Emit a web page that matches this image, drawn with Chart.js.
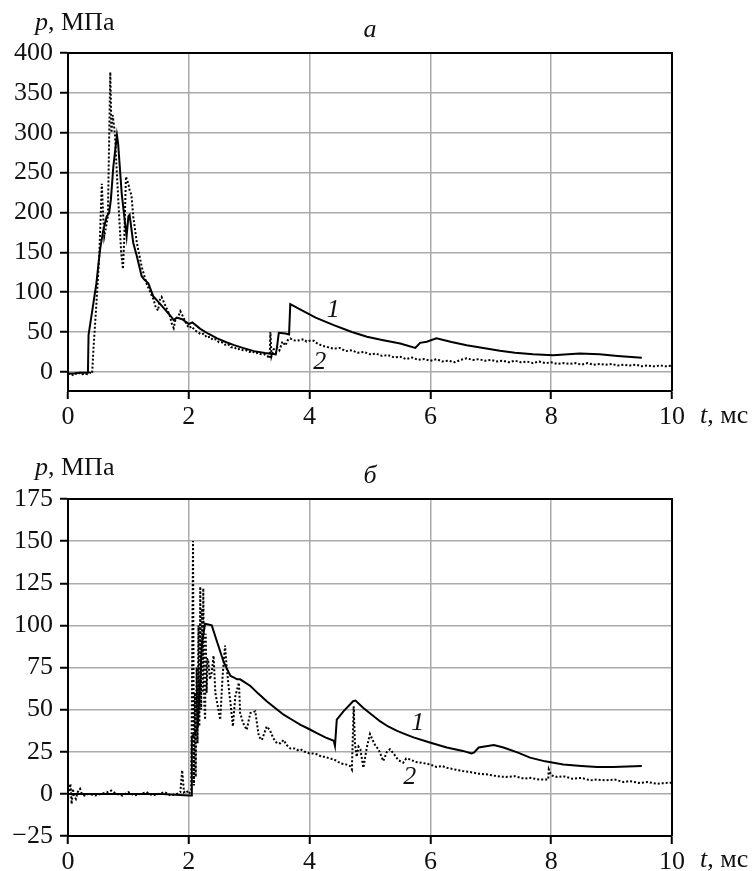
<!DOCTYPE html>
<html>
<head>
<meta charset="utf-8">
<script src="https://cdn.jsdelivr.net/npm/chart.js@4.4.1/dist/chart.umd.min.js"></script>
<style>
  body { margin: 0; background: #fff; }
  canvas { position: absolute; left: 0; }
</style>
</head>
<body>
<canvas id="chartA" width="755" height="430" style="top:0"></canvas>
<canvas id="chartB" width="755" height="441" style="top:430px"></canvas>
<script>
// ---- panel a ----
const timeTicks = [0, 2, 4, 6, 8, 10];
const presTicksA = [0, 50, 100, 150, 200, 250, 300, 350, 400];

// curve 1 (solid)
const tA1 = [0, 0.1, 0.2, 0.33, 0.34, 0.42, 0.47, 0.53, 0.58, 0.64, 0.68, 0.71, 0.75, 0.81, 0.83, 0.89, 0.97, 1.0, 1.02,
  1.08, 1.14, 1.22, 1.26, 1.33, 1.41, 1.55, 1.69, 1.75, 1.8, 1.89, 2.0, 2.06, 2.19, 2.33, 2.47, 2.61, 2.75, 2.92, 3.08,
  3.26, 3.44, 3.46, 3.49, 3.6, 3.66, 3.68, 3.85, 4.1, 4.4, 4.7, 4.95, 5.2, 5.5, 5.75, 5.83, 5.94, 6.1, 6.35, 6.6,
  6.9, 7.15, 7.4, 7.7, 8.03, 8.47, 8.8, 9.1, 9.5];
const pA1 = [-2, -2, -1, -1, 46, 86, 111, 153, 176, 195, 199, 216, 257, 297, 286, 223, 170, 195, 197,
  162, 145, 120, 116, 111, 95, 83, 71, 65, 68, 66, 60, 62, 54, 47.5, 42, 37.5, 33.5, 29.5, 26,
  23.8, 22, 31, 49, 48, 47, 85, 78, 68, 58.6, 50, 44, 40, 35.6, 30, 36.4, 37.7, 42, 37.5, 33.5,
  29.5, 26.4, 24, 22, 21, 23, 22, 20, 17.6];

// curve 2 (dotted)
const tA2 = [0, 0.04, 0.08, 0.12, 0.16, 0.2, 0.24, 0.28, 0.32, 0.36, 0.4, 0.42, 0.47, 0.52, 0.56, 0.58, 0.6, 0.63, 0.66,
  0.7, 0.72, 0.74, 0.76, 0.78, 0.8, 0.84, 0.88, 0.91, 0.93, 0.96, 0.98, 1.0, 1.02, 1.05, 1.08, 1.14, 1.22, 1.3, 1.36,
  1.41, 1.45, 1.49, 1.52, 1.55, 1.6, 1.63, 1.68, 1.72, 1.75, 1.78, 1.82, 1.86, 1.9, 1.95,
  2.0, 2.05, 2.1, 2.15, 2.2, 2.25, 2.3, 2.35, 2.4, 2.45, 2.5, 2.55, 2.6, 2.65, 2.7, 2.75, 2.8, 2.85, 2.9, 2.95,
  3.0, 3.05, 3.1, 3.15, 3.2, 3.25, 3.3, 3.34, 3.35, 3.37, 3.4, 3.46, 3.5, 3.55, 3.6, 3.64, 3.68, 3.72, 3.78, 3.85,
  3.9, 3.95, 4.0, 4.07, 4.12, 4.2, 4.3, 4.4, 4.5, 4.6, 4.7, 4.8, 4.9, 5.0, 5.1, 5.2, 5.3, 5.4, 5.5, 5.6, 5.7,
  5.8, 5.9, 6.0, 6.1, 6.2, 6.3, 6.4, 6.5, 6.6, 6.7, 6.8, 6.9, 7.0, 7.1, 7.2, 7.3, 7.4, 7.5, 7.6, 7.7, 7.8, 7.9,
  8.0, 8.1, 8.2, 8.3, 8.4, 8.5, 8.6, 8.7, 8.8, 8.9, 9.0, 9.1, 9.2, 9.3, 9.4, 9.5, 9.6, 9.7, 9.8, 9.9, 10.0];
const pA2 = [-3, -2, -4, -2, -3, -1, -3, -2, -3, -1, -2, 27, 85, 150, 236, 200, 170, 182, 195,
  376, 300, 322, 310, 295, 262, 205, 150, 129, 165, 245, 240, 236, 228, 222, 195, 162, 132, 111, 100,
  92, 82, 77, 90, 94, 85, 80, 72, 60, 55, 66, 68, 76, 70, 62,
  55, 57, 52, 50, 47, 48, 43, 44, 40, 41, 37, 37, 34, 35, 31, 31, 28, 29, 27, 27,
  25, 26, 23, 24, 22, 22, 20, 17, 50, 20, 28, 31, 27, 38, 33, 40, 42, 40, 39, 40,
  41, 38, 39, 39, 36, 33, 31, 29, 30, 26, 27, 24, 25, 22, 23, 20, 21, 18, 19, 16, 18,
  15, 16, 14, 16, 13, 14, 12, 15, 17, 15, 16, 14, 15, 13, 14, 12, 14, 12, 13, 11, 13, 11,
  12, 10, 11, 10, 11, 9, 11, 9, 10, 9, 10, 8, 9, 8, 9, 7, 8, 7, 8, 7, 8];

// ---- panel б ----
const presTicksB = [-25, 0, 25, 50, 75, 100, 125, 150, 175];

const tB1 = [0, 0.5, 1.0, 1.5, 2.0, 2.04, 2.05, 2.11, 2.15, 2.19, 2.22, 2.27, 2.38, 2.47, 2.58, 2.69, 2.75, 2.8, 2.85,
  3.02, 3.15, 3.29, 3.43, 3.57, 3.71, 3.85, 3.99, 4.12, 4.26, 4.4, 4.42, 4.45, 4.56, 4.72, 4.76, 4.89, 5.03, 5.17,
  5.3, 5.44, 5.58, 5.72, 5.99, 6.27, 6.54, 6.68, 6.72, 6.8, 7.05, 7.21, 7.45, 7.65, 7.9, 8.2, 8.5, 8.76, 9.03, 9.5];
const pB1 = [0, 0, 0, 0, -1, -1, 34, 36.5, 40, 68, 90, 101, 100, 90, 78, 70, 69, 68, 68,
  64, 59.5, 55, 51, 47, 44, 41, 38.5, 36, 33.5, 31.5, 28.5, 44, 49, 55, 55.4, 51, 47, 43,
  40, 37.5, 35.5, 33.5, 30.5, 27.5, 25.5, 24, 24.5, 27.5, 29, 27.5, 24.5, 21.5, 19.3, 17.5, 16.6, 16, 16, 16.5];

const tB2 = [0, 0.02, 0.04, 0.06, 0.08, 0.1, 0.13, 0.16, 0.2, 0.23, 0.27, 0.35, 0.45, 0.55, 0.65, 0.72, 0.8, 0.9,
  1.0, 1.1, 1.2, 1.3, 1.4, 1.5, 1.6, 1.7, 1.8, 1.86, 1.89, 1.92, 1.96, 2.0, 2.04,
  2.07, 2.085, 2.1, 2.115, 2.13, 2.145, 2.16, 2.175, 2.19, 2.205, 2.22, 2.23, 2.24, 2.255, 2.27, 2.28, 2.295, 2.31,
  2.32, 2.35, 2.38, 2.41, 2.44, 2.48, 2.52, 2.56, 2.6, 2.63,
  2.67, 2.69, 2.73, 2.77, 2.83, 2.85, 2.9, 2.96, 3.0, 3.02, 3.1, 3.16, 3.21, 3.29, 3.34, 3.4, 3.46, 3.52, 3.57,
  3.62, 3.68, 3.75, 3.8, 3.85, 3.92, 4.0, 4.06, 4.12, 4.2, 4.26, 4.33, 4.4, 4.47, 4.53, 4.6, 4.67, 4.7, 4.73,
  4.75, 4.78, 4.81, 4.84, 4.89, 4.95, 5.0, 5.03, 5.09, 5.14, 5.22, 5.28, 5.33, 5.4, 5.47, 5.55, 5.6, 5.66, 5.75,
  5.85, 5.99, 6.1, 6.2, 6.27, 6.4, 6.54, 6.65, 6.8, 6.95, 7.1, 7.25, 7.4, 7.55, 7.65, 7.8, 7.95, 7.96, 8.0, 8.1,
  8.2, 8.35, 8.5, 8.65, 8.76, 8.9, 9.05, 9.2, 9.3, 9.45, 9.6, 9.75, 9.9, 10.0];
const pB2 = [-3, 1, 6, -6, 3, -1, -3, 1, 3, 0, -1, 0, -1, 0, 1, 2, 0, -1,
  1, -1, 0, 1, -1, 0, 1, -1, 0, 1, 14, 1, 2, 0, 2,
  150, 5, 60, 10, 75, 30, 100, 40, 123, 50, 110, 60, 122, 55, 44, 95, 60, 80,
  80, 68, 72, 82, 60, 52, 44, 70, 88, 74,
  60, 54, 40, 58, 66, 48, 42, 38, 45, 48, 49, 34, 32, 40, 38, 33, 30, 30, 32,
  29, 27, 27, 26, 26.5, 25, 24, 24, 23.5, 22, 22, 21, 20.5, 19, 18, 17.5, 16.5, 14.5, 52,
  30, 22, 28, 26.5, 15.5, 28, 35.5, 33, 28.5, 26.5, 19.5, 25, 26.5, 23.5, 20, 18.5, 21, 20.5, 19,
  18.5, 17.5, 16, 16.5, 15.5, 14.5, 13.5, 13, 12, 11.5, 10.5, 10, 10.5, 9, 9.5, 8.5, 8.5, 14.5, 11, 10,
  10.5, 9, 9.5, 8, 8.5, 8, 8.5, 7, 7.6, 6.5, 7, 6, 6.5, 6.6];

const FONT = '"Liberation Serif", "DejaVu Serif", serif';

function pairs(xs, ys) {
  return xs.map((x, i) => ({ x: x, y: ys[i] }));
}

function drawMixed(ctx, parts, x, y) {
  ctx.textAlign = 'left';
  parts.forEach(([style, txt]) => {
    ctx.font = style + ' 26px ' + FONT;
    ctx.fillText(txt, x, y);
    x += ctx.measureText(txt).width;
  });
}

// frame + text labels
const decor = {
  id: 'decor',
  afterDraw(chart, args, o) {
    const { ctx, chartArea: a, scales } = chart;
    ctx.save();
    ctx.strokeStyle = '#000';
    ctx.lineWidth = 2;
    ctx.beginPath();
    ctx.moveTo(a.left, a.top);
    ctx.lineTo(a.right, a.top);
    ctx.lineTo(a.right, a.bottom);
    ctx.stroke();

    ctx.fillStyle = '#111';
    ctx.textBaseline = 'alphabetic';
    drawMixed(ctx, [['italic', 'p'], ['normal', ', МПа']], 35, o.yTitleY);
    drawMixed(ctx, [['italic', 't'], ['normal', ', мс']], 700, o.xTitleY);

    ctx.font = 'italic 26px ' + FONT;
    ctx.textAlign = 'center';
    ctx.fillText(o.panel, (a.left + a.right) / 2, o.panelY);

    ctx.textBaseline = 'middle';
    o.curveLabels.forEach(l => {
      ctx.fillText(l.text, scales.x.getPixelForValue(l.x), scales.y.getPixelForValue(l.y));
    });
    ctx.restore();
  }
};

function makeChart(id, d) {
  return new Chart(document.getElementById(id), {
    type: 'scatter',
    data: {
      datasets: [
        { data: d.solid, showLine: true, borderColor: '#000', borderWidth: 2, pointRadius: 0 },
        { data: d.dotted, showLine: true, borderColor: '#000', borderWidth: 2, borderDash: [2, 2], pointRadius: 0 }
      ]
    },
    options: {
      responsive: false,
      animation: false,
      devicePixelRatio: 1,
      layout: { padding: { top: d.padTop, right: 83, left: 0, bottom: 0 } },
      plugins: {
        legend: { display: false },
        tooltip: { enabled: false },
        decor: d.decor
      },
      scales: {
        x: {
          type: 'linear', min: 0, max: 10,
          afterBuildTicks: s => { s.ticks = timeTicks.map(v => ({ value: v })); },
          afterFit: s => { s.height = d.xHeight; },
          grid: { color: '#aaa', lineWidth: 1.5, tickColor: '#000', tickLength: 8, tickWidth: 2 },
          border: { color: '#000', width: 2 },
          ticks: { color: '#111', font: { family: FONT, size: 26 }, padding: 3, maxRotation: 0 }
        },
        y: {
          type: 'linear', min: d.yMin, max: d.yMax,
          afterBuildTicks: s => { s.ticks = d.yTicks.map(v => ({ value: v })); },
          afterFit: s => { s.width = 68; },
          grid: { color: '#aaa', lineWidth: 1.5, tickColor: '#000', tickLength: 8, tickWidth: 2 },
          border: { color: '#000', width: 2 },
          ticks: {
            color: '#111', font: { family: FONT, size: 26 }, padding: 7,
            callback: v => (v < 0 ? '\u2212' + Math.abs(v) : String(v))
          }
        }
      }
    },
    plugins: [decor]
  });
}

makeChart('chartA', {
  solid: pairs(tA1, pA1),
  dotted: pairs(tA2, pA2),
  yMin: -24, yMax: 400, yTicks: presTicksA,
  padTop: 53, xHeight: 39,
  decor: {
    panel: 'a', panelY: 37, yTitleY: 30, xTitleY: 423,
    curveLabels: [{ text: '1', x: 4.39, y: 78 }, { text: '2', x: 4.17, y: 12.5 }]
  }
});

makeChart('chartB', {
  solid: pairs(tB1, pB1),
  dotted: pairs(tB2, pB2),
  yMin: -25, yMax: 175, yTicks: presTicksB,
  padTop: 69, xHeight: 35,
  decor: {
    panel: 'б', panelY: 53, yTitleY: 45, xTitleY: 437,
    curveLabels: [{ text: '1', x: 5.79, y: 42 }, { text: '2', x: 5.66, y: 10 }]
  }
});
</script>
</body>
</html>
